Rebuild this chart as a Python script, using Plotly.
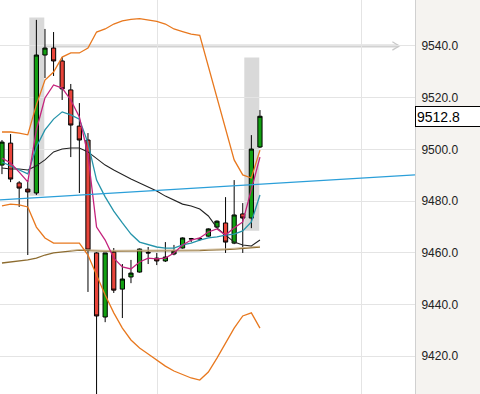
import plotly.graph_objects as go

# ---- data ----
idx = list(range(31))
opens  = [9493.9, 9502.4, 9487.0, 9484.6, 9483.1, 9536.5, 9539.2, 9534.2, 9523.0, 9509.0,
          9503.6, 9459.9, 9435.1, 9460.2, 9445.9, 9450.6, 9452.5, 9460.1, 9457.9, 9456.8,
          9459.5, 9461.8, 9465.3, 9465.3, 9466.4, 9469.9, 9471.5, 9463.7, 9475.0, 9473.4, 9500.9]
highs  = [9503.6, 9505.9, 9487.7, 9488.1, 9550.1, 9546.6, 9545.4, 9535.7, 9525.3, 9517.9,
          9506.3, 9460.2, 9459.9, 9461.8, 9455.6, 9457.2, 9461.6, 9462.2, 9459.9, 9464.1,
          9463.0, 9465.9, 9465.7, 9465.8, 9469.4, 9472.5, 9481.5, 9488.1, 9479.2, 9505.5, 9515.2]
lows   = [9490.4, 9487.3, 9477.7, 9459.1, 9482.3, 9527.6, 9528.4, 9519.1, 9497.0, 9483.1,
          9444.8, 9405.0, 9433.1, 9444.4, 9434.7, 9448.2, 9452.3, 9455.6, 9455.2, 9456.4,
          9459.0, 9461.6, 9464.1, 9464.5, 9466.2, 9469.7, 9459.9, 9463.3, 9459.9, 9469.5, 9500.5]
closes = [9502.8, 9488.5, 9485.0, 9483.5, 9536.5, 9539.2, 9534.2, 9523.4, 9509.4, 9503.6,
          9461.0, 9435.5, 9459.9, 9445.5, 9449.8, 9452.1, 9461.4, 9459.9, 9456.8, 9458.3,
          9460.6, 9465.7, 9465.4, 9465.4, 9469.2, 9472.2, 9464.1, 9474.6, 9473.4, 9500.1, 9512.8]

bb_upper = [9506.7, 9506.7, 9506.3, 9505.6, 9517.2, 9526.8, 9529.9, 9535.7, 9537.3, 9537.3,
            9539.2, 9545.4, 9546.6, 9548.5, 9549.7, 9550.3, 9550.6, 9550.1, 9549.5, 9548.5,
            9546.6, 9545.6, 9544.6, 9544.1, 9531.9, 9519.9, 9507.5, 9495.9, 9490.1, 9488.9, 9499.7]
bb_lower = [9478.1, 9478.8, 9478.5, 9477.7, 9469.9, 9465.7, 9463.7, 9463.7, 9463.7, 9463.7,
            9459.1, 9451.4, 9443.6, 9436.7, 9430.8, 9426.2, 9423.1, 9420.8, 9418.5, 9416.1,
            9414.2, 9412.7, 9411.5, 9410.7, 9413.8, 9419.2, 9425.0, 9430.8, 9435.5, 9436.7, 9430.8]
ma_mid   = [9492.8, 9492.4, 9492.4, 9492.0, 9493.6, 9495.9, 9499.0, 9500.1, 9500.5, 9500.5,
            9499.0, 9496.3, 9493.9, 9492.0, 9490.1, 9488.5, 9487.0, 9485.4, 9483.9, 9481.9,
            9480.4, 9478.8, 9478.1, 9476.9, 9474.2, 9469.6, 9466.8, 9464.1, 9463.0, 9462.6, 9464.9]
ema_teal = [9495.1, 9493.6, 9492.0, 9490.5, 9500.9, 9507.5, 9511.7, 9514.5, 9513.3, 9511.7,
            9502.5, 9488.1, 9481.6, 9476.1, 9471.5, 9467.2, 9464.1, 9463.0, 9462.2, 9461.8,
            9461.8, 9463.0, 9463.7, 9464.9, 9465.7, 9466.1, 9466.8, 9467.2, 9468.4, 9471.9, 9482.3]
ema_mag  = [9496.6, 9494.7, 9491.2, 9487.4, 9507.5, 9519.9, 9524.9, 9523.7, 9519.1, 9512.5,
            9497.8, 9469.9, 9464.9, 9457.9, 9454.5, 9453.7, 9456.4, 9457.9, 9457.6, 9457.9,
            9459.9, 9463.0, 9464.9, 9465.7, 9468.0, 9469.2, 9466.8, 9469.6, 9471.9, 9485.0, 9497.0]
ma_long  = [9456.0, 9456.4, 9456.8, 9457.2, 9457.9, 9459.1, 9459.9, 9460.3, 9460.6, 9461.0,
            9460.8, 9460.6, 9460.6, 9460.6, 9460.6, 9460.6, 9460.6, 9460.6, 9460.6, 9460.6,
            9460.6, 9460.6, 9460.8, 9460.8, 9461.0, 9461.0, 9461.2, 9461.4, 9461.6, 9461.8, 9462.2]
ma_long2 = [None] * 8 + [9460.9, 9461.2, 9461.1, 9460.9, 9460.9, 9460.9, 9460.9, 9460.9,
                         9460.9, 9460.9, 9460.9, 9460.9, 9460.9, 9460.9, 9461.1, 9461.1,
                         9461.3, 9461.3, 9461.5, 9461.7, 9461.9, 9462.1, 9462.5]
trend_x = [-0.23, 48.03]
trend_y = [9480.4, 9490.1]
highlight_idx = [4, 29]
highlight_lo = [9482.0, 9468.5]
highlight_hi = [9551.0, 9535.5]
level_price = 9540.0
last_price = 9512.8
y_ticks = [9420, 9440, 9460, 9480, 9500, 9520, 9540]
x_grid = [18.14, 41.86]

fig = go.Figure()

fig.add_trace(go.Candlestick(
    x=idx, open=opens, high=highs, low=lows, close=closes,
    increasing=dict(fillcolor="#12a012", line=dict(color="#000000", width=1)),
    decreasing=dict(fillcolor="#e8443a", line=dict(color="#000000", width=1)),
    whiskerwidth=0, showlegend=False, hoverinfo="skip"))

def add_line(y, color, width=1.3):
    fig.add_trace(go.Scatter(x=idx, y=y, mode="lines", line=dict(color=color, width=width),
                             showlegend=False, hoverinfo="skip", connectgaps=False))

add_line(ma_long, "#8d6c30", 1.3)
add_line(ma_long2, "#cdb894", 1.0)
add_line(bb_upper, "#e8781e", 1.3)
add_line(bb_lower, "#e8781e", 1.3)
add_line(ma_mid, "#222222", 1.1)
add_line(ema_teal, "#2594aa", 1.3)
add_line(ema_mag, "#c4237c", 1.3)
fig.add_trace(go.Scatter(x=trend_x, y=trend_y, mode="lines", line=dict(color="#2b9fd9", width=1.2),
                         showlegend=False, hoverinfo="skip"))

shapes = []
for i, lo, hi in zip(highlight_idx, highlight_lo, highlight_hi):
    shapes.append(dict(type="rect", xref="x", yref="y", x0=i - 0.82, x1=i + 0.92, y0=lo, y1=hi,
                       fillcolor="#d9d9d9", line=dict(width=0), layer="below"))
shapes.append(dict(type="line", xref="x", yref="y", x0=4.9, x1=46.1, y0=level_price, y1=level_price,
                   line=dict(color="#d2d2d2", width=3), layer="below"))
shapes.append(dict(type="path", xref="x", yref="y",
                   path=f"M 45.4,{level_price + 1.6} L 46.2,{level_price} L 45.4,{level_price - 1.6}",
                   line=dict(color="#c8c8c8", width=1.2), layer="below"))
fig.update_layout(shapes=shapes)

fig.add_annotation(xref="paper", yref="y", x=1.0, y=last_price, xanchor="left", yanchor="middle",
                   text="9512.8", showarrow=False, align="left",
                   font=dict(family="Liberation Sans, Arial", size=14, color="#000000"),
                   bgcolor="#ffffff", bordercolor="#000000", borderwidth=1, borderpad=1,
                   width=84, height=17)

fig.update_layout(
    width=480, height=394,
    margin=dict(l=0, r=65, t=0, b=0),
    paper_bgcolor="#f5f3f0", plot_bgcolor="#ffffff",
    font=dict(family="Liberation Sans, Arial", size=12, color="#222222"),
    xaxis=dict(range=[-0.23, 48.03], tickvals=x_grid, showticklabels=False, showgrid=True,
               gridcolor="#e4e4e4", zeroline=False, rangeslider=dict(visible=False), ticks=""),
    yaxis=dict(side="right", range=[9405.3, 9557.8], tickvals=y_ticks, tickformat=".1f",
               showgrid=True, gridcolor="#e4e4e4", zeroline=False, ticks="",
               showline=True, linecolor="#d0d0d0", linewidth=1, ticklabelstandoff=3),
    hovermode=False,
)

fig.write_html("out.html", config={"displayModeBar": False},
               post_script="document.body.style.margin='0px';document.body.style.overflow='hidden';")
